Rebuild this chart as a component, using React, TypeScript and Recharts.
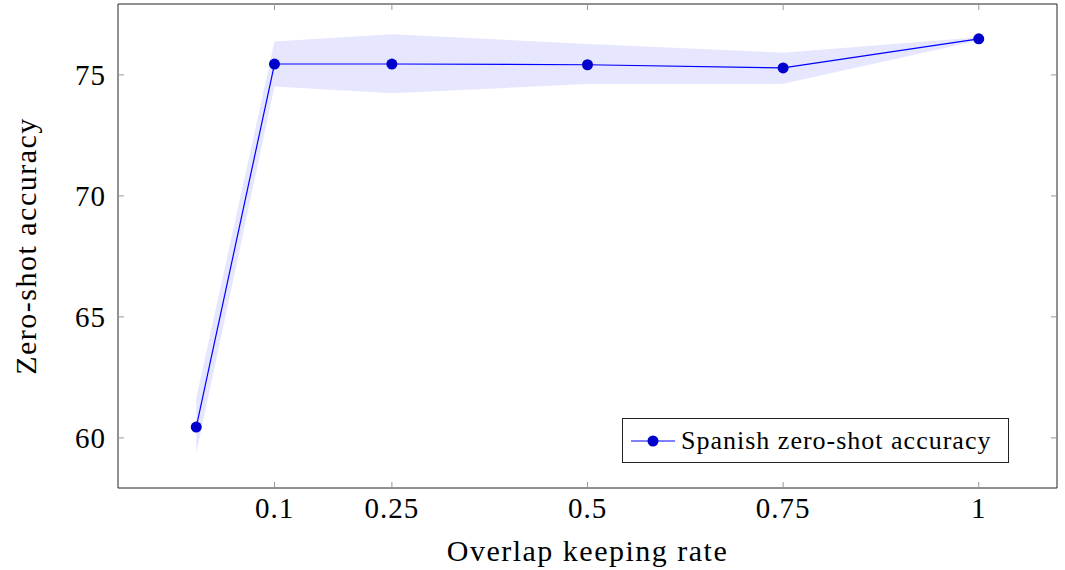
import React from 'react';
import { ComposedChart, Area, Line, XAxis, YAxis, Legend } from 'recharts';

const rates = [0, 0.1, 0.25, 0.5, 0.75, 1];
const accuracy = [60.45, 75.45, 75.45, 75.42, 75.29, 76.49];
const bandLow = [59.37, 74.52, 74.24, 74.62, 74.63, 76.42];
const bandHigh = [61.65, 76.38, 76.68, 76.28, 75.92, 76.56];
const xTicks = [0.1, 0.25, 0.5, 0.75, 1];
const yTicks = [60, 65, 70, 75];
const seriesName = 'Spanish zero-shot accuracy';
const xLabel = 'Overlap keeping rate';
const yLabel = 'Zero-shot accuracy';

const data = rates.map((r, i) => ({ rate: r, acc: accuracy[i], band: [bandLow[i], bandHigh[i]] }));

const FONT = '"Liberation Serif", "Times New Roman", serif';
const TICK_COLOR = '#999';
const AXIS_COLOR = '#222';

const XTickBottom = (props: any) => {
  const { x, y, payload } = props;
  return (
    <g>
      <line x1={x} x2={x} y1={y} y2={y - 6} stroke={TICK_COLOR} strokeWidth={1} />
      <text x={x} y={y + 30} textAnchor="middle" fontFamily={FONT} fontSize={29} letterSpacing={1} fill="#000">
        {String(payload.value)}
      </text>
    </g>
  );
};

const XTickTop = (props: any) => {
  const { x, y } = props;
  return <line x1={x} x2={x} y1={y} y2={y + 6} stroke={TICK_COLOR} strokeWidth={1} />;
};

const YTickLeft = (props: any) => {
  const { x, y, payload } = props;
  return (
    <g>
      <line x1={x} x2={x + 6} y1={y} y2={y} stroke={TICK_COLOR} strokeWidth={1} />
      <text x={x - 12} y={y + 10} textAnchor="end" fontFamily={FONT} fontSize={29} letterSpacing={1} fill="#000">
        {String(payload.value)}
      </text>
    </g>
  );
};

const YTickRight = (props: any) => {
  const { x, y } = props;
  return <line x1={x} x2={x - 6} y1={y} y2={y} stroke={TICK_COLOR} strokeWidth={1} />;
};

const YLabel = (props: any) => {
  const vb = props.viewBox || { x: 0, y: 4, width: 118, height: 484 };
  const cx = 36;
  const cy = vb.y + vb.height / 2;
  return (
    <text x={cx} y={cy} transform={`rotate(-90, ${cx}, ${cy})`} textAnchor="middle" fontFamily={FONT} fontSize={30} letterSpacing={1.5} fill="#000">
      {yLabel}
    </text>
  );
};

const XLabel = (props: any) => {
  const vb = props.viewBox || { x: 118, y: 488, width: 939, height: 82 };
  const cx = vb.x + vb.width / 2;
  return (
    <text x={cx} y={561} textAnchor="middle" fontFamily={FONT} fontSize={30} letterSpacing={1.5} fill="#000">
      {xLabel}
    </text>
  );
};

const LegendBox = () => (
  <div
    style={{
      width: 385,
      height: 43,
      border: `1px solid ${AXIS_COLOR}`,
      background: '#fff',
      display: 'flex',
      alignItems: 'center',
      fontFamily: FONT,
      fontSize: 26,
      letterSpacing: 1,
      boxSizing: 'content-box',
    }}
  >
    <svg width={58} height={43} style={{ display: 'block' }}>
      <line x1={8} x2={52} y1={22} y2={22} stroke="#0000ff" strokeWidth={1.2} />
      <circle cx={30} cy={22} r={5.5} fill="#0000cc" />
    </svg>
    <span style={{ whiteSpace: 'nowrap', lineHeight: '43px' }}>{seriesName}</span>
  </div>
);

export default function App() {
  return (
    <div style={{ position: 'absolute', left: 0, top: 0, width: 1065, height: 570, background: '#fff' }}>
      <ComposedChart width={1065} height={570} data={data} margin={{ top: 3, right: 7, bottom: 0, left: 0 }}>
        <XAxis
          xAxisId="b"
          dataKey="rate"
          type="number"
          domain={[-0.1, 1.1]}
          ticks={xTicks}
          orientation="bottom"
          height={82}
          tickSize={0}
          tickMargin={0}
          tickLine={false}
          tick={<XTickBottom />}
          axisLine={{ stroke: AXIS_COLOR, strokeWidth: 1 }}
          interval={0}
          allowDataOverflow
          label={<XLabel />}
        />
        <XAxis
          xAxisId="t"
          dataKey="rate"
          type="number"
          domain={[-0.1, 1.1]}
          ticks={xTicks}
          orientation="top"
          height={1}
          tickSize={0}
          tickMargin={0}
          tickLine={false}
          tick={<XTickTop />}
          axisLine={{ stroke: AXIS_COLOR, strokeWidth: 1 }}
          interval={0}
          allowDataOverflow
        />
        <YAxis
          yAxisId="l"
          type="number"
          domain={[57.93, 77.93]}
          ticks={yTicks}
          orientation="left"
          width={118}
          tickSize={0}
          tickMargin={0}
          tickLine={false}
          tick={<YTickLeft />}
          axisLine={{ stroke: AXIS_COLOR, strokeWidth: 1 }}
          interval={0}
          allowDataOverflow
          label={<YLabel />}
        />
        <YAxis
          yAxisId="r"
          type="number"
          domain={[57.93, 77.93]}
          ticks={yTicks}
          orientation="right"
          width={1}
          tickSize={0}
          tickMargin={0}
          tickLine={false}
          tick={<YTickRight />}
          axisLine={{ stroke: AXIS_COLOR, strokeWidth: 1 }}
          interval={0}
          allowDataOverflow
        />
        <Area
          xAxisId="b"
          yAxisId="l"
          type="linear"
          dataKey="band"
          stroke="none"
          fill="#e6e6ff"
          fillOpacity={1}
          isAnimationActive={false}
          legendType="none"
          activeDot={false}
        />
        <Line
          xAxisId="t"
          yAxisId="r"
          type="linear"
          dataKey="acc"
          stroke="none"
          strokeWidth={0}
          dot={false}
          activeDot={false}
          legendType="none"
          isAnimationActive={false}
        />
        <Line
          xAxisId="b"
          yAxisId="l"
          type="linear"
          dataKey="acc"
          name={seriesName}
          stroke="#0000ff"
          strokeWidth={1.2}
          dot={{ r: 5.5, fill: '#0000cc', stroke: '#0000cc', strokeWidth: 0 }}
          activeDot={false}
          isAnimationActive={false}
        />
        <Legend
          layout="horizontal"
          verticalAlign="middle"
          align="center"
          content={<LegendBox />}
          wrapperStyle={{ position: 'absolute', left: 622, top: 418, width: 'auto', height: 'auto', margin: 0, padding: 0 }}
        />
      </ComposedChart>
    </div>
  );
}
